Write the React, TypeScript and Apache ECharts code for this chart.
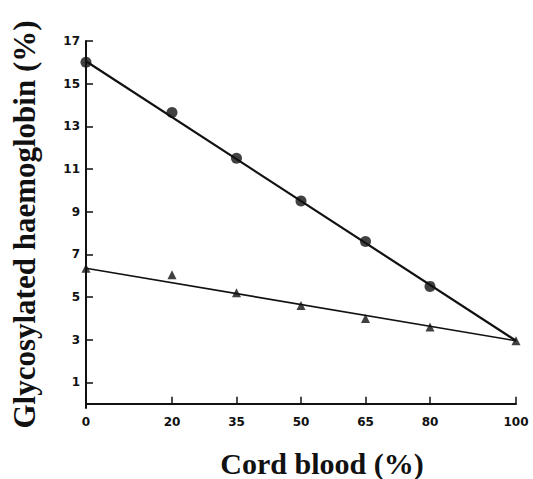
import React, { useEffect, useRef } from "react";
import * as echarts from "echarts";

const xTicks = [0, 20, 35, 50, 65, 80, 100];
const yTicks = [1, 3, 5, 7, 9, 11, 13, 15, 17];

const circleData: [number, number][] = [
  [0, 16.0],
  [20, 13.65],
  [35, 11.5],
  [50, 9.5],
  [65, 7.6],
  [80, 5.5],
];
const triangleData: [number, number][] = [
  [0, 6.35],
  [20, 6.05],
  [35, 5.2],
  [50, 4.6],
  [65, 4.0],
  [80, 3.6],
  [100, 2.95],
];
const upperFit: [number, number][] = [
  [0, 16.05],
  [100, 2.95],
];
const lowerFit: [number, number][] = [
  [0, 6.35],
  [100, 2.95],
];

export default function App() {
  const ref = useRef<HTMLDivElement>(null);
  useEffect(() => {
    document.body.style.margin = "0";
    const chart = echarts.init(ref.current!, null, { renderer: "svg" });
    const ink = "#111";
    chart.setOption({
      animation: false,
      backgroundColor: "#fff",
      grid: {
        left: 86,
        right: 17,
        top: 41,
        bottom: 71,
        containLabel: false,
        outerBoundsMode: "none",
      },
      xAxis: {
        type: "value",
        min: 0,
        max: 100,
        name: "Cord blood (%)",
        nameLocation: "middle",
        nameGap: 40,
        nameTextStyle: {
          fontFamily: "Liberation Serif",
          fontWeight: "bold",
          fontSize: 30,
          lineHeight: 30,
          color: ink,
          padding: [0, 0, 0, 42],
        },
        axisLine: { lineStyle: { color: ink, width: 2 } },
        axisTick: {
          customValues: xTicks,
          inside: true,
          length: 7,
          lineStyle: { color: ink, width: 1.5 },
        },
        axisLabel: {
          customValues: xTicks,
          margin: 8,
          fontFamily: "DejaVu Sans",
          fontWeight: "bold",
          fontSize: 12,
          color: ink,
        },
        splitLine: { show: false },
      },
      yAxis: {
        type: "value",
        min: -0.2,
        max: 17,
        name: "Glycosylated haemoglobin (%)",
        nameLocation: "middle",
        nameGap: 46,
        nameTextStyle: {
          fontFamily: "Liberation Serif",
          fontWeight: "bold",
          fontSize: 31,
          lineHeight: 32,
          color: ink,
        },
        axisLine: { show: true, lineStyle: { color: ink, width: 2 } },
        axisTick: {
          show: true,
          customValues: yTicks,
          inside: true,
          length: 7,
          lineStyle: { color: ink, width: 1.5 },
        },
        axisLabel: {
          customValues: yTicks,
          margin: 6,
          fontFamily: "DejaVu Sans",
          fontWeight: "bold",
          fontSize: 12,
          color: ink,
        },
        splitLine: { show: false },
      },
      series: [
        {
          type: "line",
          data: upperFit,
          showSymbol: false,
          symbol: "none",
          lineStyle: { color: ink, width: 2.2 },
          z: 2,
        },
        {
          type: "line",
          data: lowerFit,
          showSymbol: false,
          symbol: "none",
          lineStyle: { color: ink, width: 1.6 },
          z: 2,
        },
        {
          type: "scatter",
          data: circleData,
          symbol: "circle",
          symbolSize: 11,
          itemStyle: { color: ink },
          z: 3,
        },
        {
          type: "scatter",
          data: triangleData,
          symbol: "triangle",
          symbolSize: 9,
          itemStyle: { color: ink },
          z: 3,
        },
      ],
    });
    return () => chart.dispose();
  }, []);
  return (
    <div
      ref={ref}
      style={{ position: "absolute", left: 0, top: 0, width: 533, height: 479 }}
    />
  );
}
